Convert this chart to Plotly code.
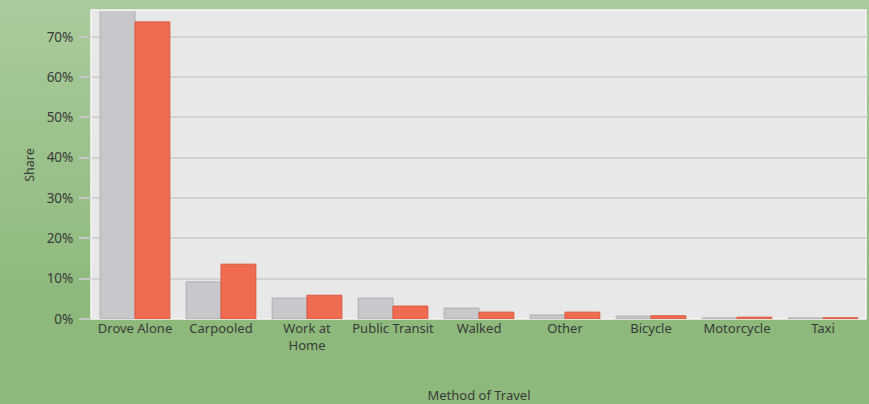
import plotly.graph_objects as go

categories = ["Drove Alone", "Carpooled", "Work at<br>Home", "Public Transit", "Walked",
              "Other", "Bicycle", "Motorcycle", "Taxi"]
series_a = [77.5, 9.2, 5.2, 5.2, 2.7, 1.0, 0.7, 0.25, 0.25]   # gray series
series_b = [73.7, 13.6, 5.9, 3.2, 1.7, 1.7, 0.8, 0.45, 0.3]   # orange series
y_ticks = [0, 10, 20, 30, 40, 50, 60, 70]
y_tick_labels = ["0%", "10%", "20%", "30%", "40%", "50%", "60%", "70%"]

W, H = 869, 404
ml, mr, mt, mb = 92, 3, 11, 85
pw, ph = W - ml - mr, H - mt - mb

fig = go.Figure()
fig.add_bar(x=categories, y=series_a, marker=dict(color="#c8c8cc", line=dict(color="#adadb2", width=1)),
            name="A")
fig.add_bar(x=categories, y=series_b, marker=dict(color="#ef6c50", line=dict(color="#d9573d", width=1)),
            name="B")

shapes = []
n = 40
c0 = (170, 203, 155)
c1 = (141, 185, 123)
y_lo, y_hi = -(mb + 2) / ph, (ph + mt + 2) / ph
for i in range(n):
    t = min(1.0, 1.3 * i / (n - 1))
    col = tuple(int(round(c0[k] + (c1[k] - c0[k]) * t)) for k in range(3))
    ya = y_hi - (y_hi - y_lo) * i / n
    yb = y_hi - (y_hi - y_lo) * (i + 1) / n
    shapes.append(dict(type="rect", xref="paper", yref="paper", x0=-(ml + 2) / pw, x1=(pw + mr + 2) / pw,
                       y0=yb - 0.003, y1=ya + 0.003, fillcolor="rgb(%d,%d,%d)" % col, line=dict(width=0),
                       layer="below"))
shapes.append(dict(type="rect", xref="paper", yref="paper", x0=-1 / pw, x1=1, y0=0, y1=1 + 1 / ph,
                   fillcolor="#e8e8e8", line=dict(color="#f6f6f6", width=1.5), layer="below"))

fig.update_layout(
    width=W, height=H,
    margin=dict(l=ml, r=mr, t=mt, b=mb, autoexpand=False),
    paper_bgcolor="#9cc28a",
    plot_bgcolor="rgba(0,0,0,0)",
    barmode="group", bargap=0.19, bargroupgap=0,
    showlegend=False,
    shapes=shapes,
    font=dict(family="Noto Sans", size=13, color="#3a3a3a"),
    xaxis=dict(title=dict(text="Method of Travel", standoff=45, font=dict(size=13)), automargin=False,
               tickfont=dict(size=13), ticks="", showgrid=False, zeroline=False, showline=False),
    yaxis=dict(title=dict(text="Share", standoff=9, font=dict(size=12.5)), automargin=False,
               range=[0, 76.4], tickvals=y_ticks, ticktext=y_tick_labels,
               tickfont=dict(size=13.5), ticks="outside", ticklen=12, tickcolor="#c6c6c6", tickwidth=1.5,
               ticklabelstandoff=3,
               showgrid=True, gridcolor="#d2d2d2", gridwidth=1.5, zeroline=False, showline=False),
)

fig.write_html(
    "out.html",
    config={"displayModeBar": False},
    post_script="document.body.style.margin='0';document.body.style.padding='0';"
                "document.body.style.overflow='hidden';document.body.style.background='#9cc28a';",
)
